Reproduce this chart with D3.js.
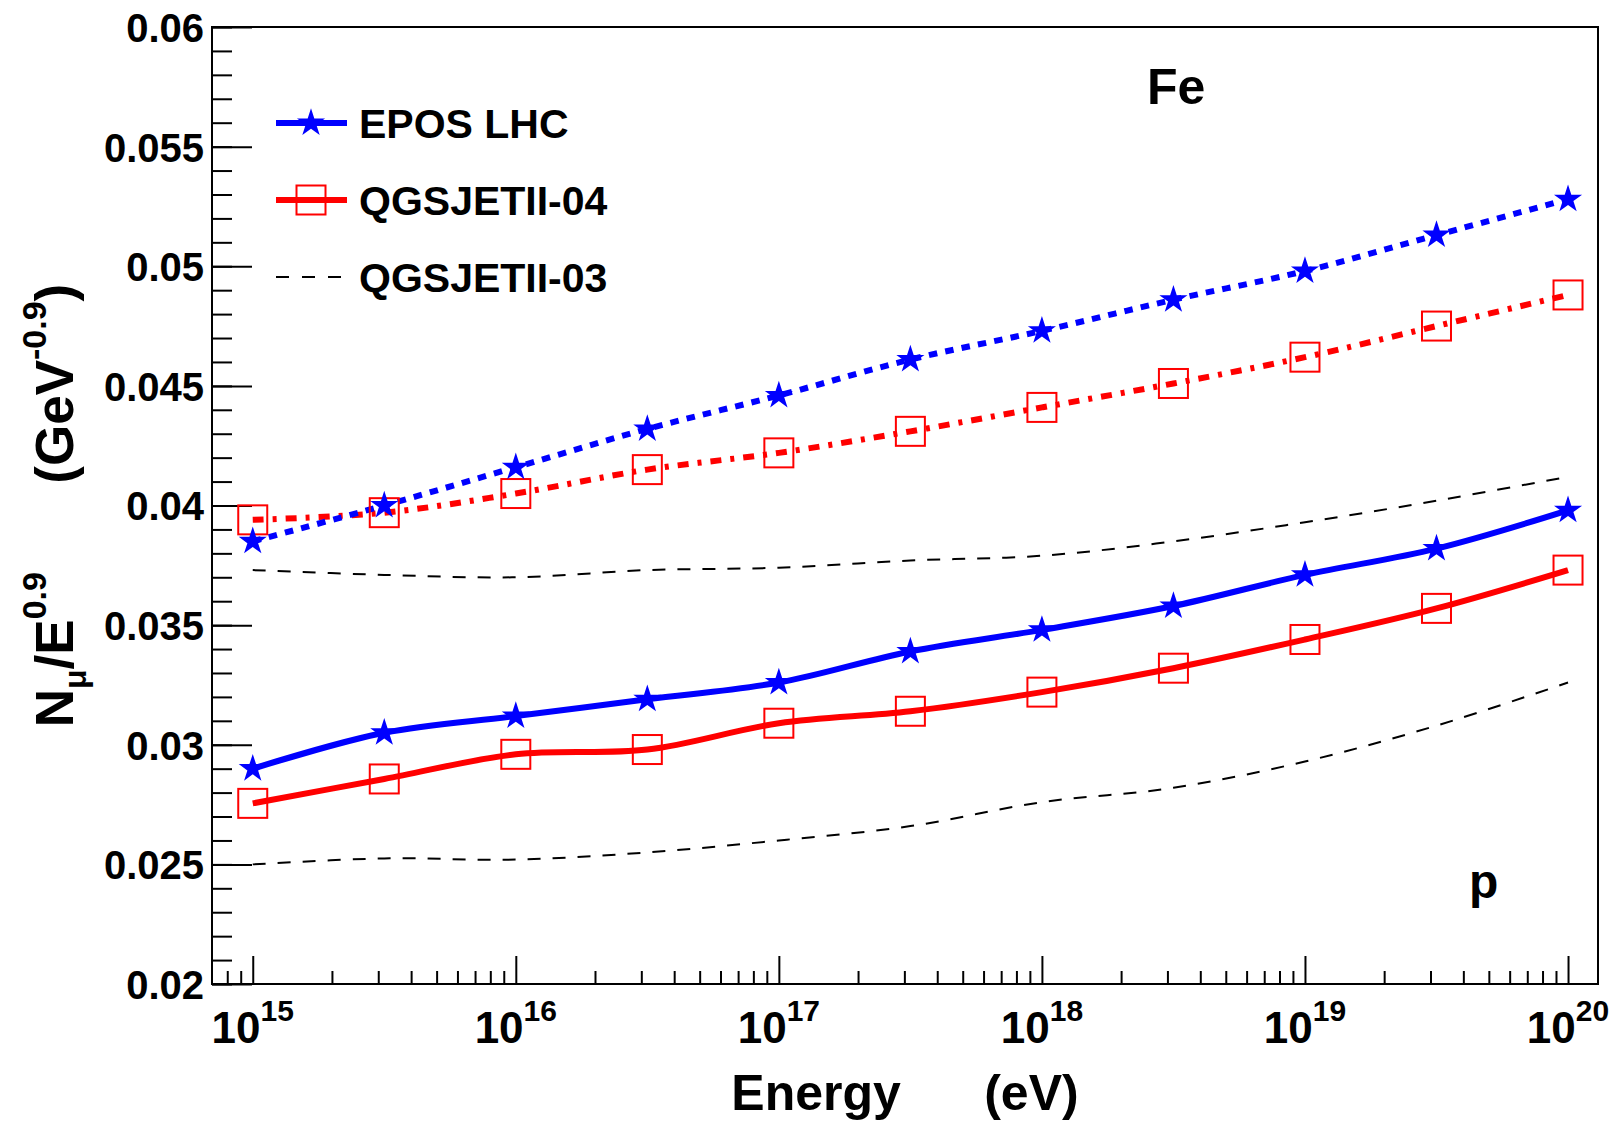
<!DOCTYPE html>
<html>
<head>
<meta charset="utf-8">
<script src="https://cdn.jsdelivr.net/npm/d3@7"></script>
<style>
body { margin: 0; background: #fff; }
text { font-family: "Liberation Sans", Arial, Helvetica, sans-serif; font-weight: bold; fill: #000; }
</style>
</head>
<body>
<div id="chart"></div>
<script>
// energies (eV), half-decade steps
var energy = [1e15, 3.162e15, 1e16, 3.162e16, 1e17, 3.162e17, 1e18, 3.162e18, 1e19, 3.162e19, 1e20];

// N_mu / E^0.9
var eposFe   = [0.0385, 0.0400, 0.0416, 0.0432, 0.0446, 0.0461, 0.0473, 0.0486, 0.0498, 0.0513, 0.0528];
var qgs04Fe  = [0.0394, 0.0397, 0.0405, 0.0415, 0.0422, 0.0431, 0.0441, 0.0451, 0.0462, 0.0475, 0.0488];
var qgs03Fe  = [0.0373, 0.0371, 0.0370, 0.0373, 0.0374, 0.0377, 0.0379, 0.0385, 0.0393, 0.0402, 0.0412];
var eposP    = [0.0290, 0.0305, 0.0312, 0.0319, 0.0326, 0.0339, 0.0348, 0.0358, 0.0371, 0.0382, 0.0398];
var qgs04P   = [0.02755, 0.02857, 0.0296, 0.0298, 0.0309, 0.0314, 0.0322, 0.0332, 0.0344, 0.0357, 0.0373];
var qgs03P   = [0.0250, 0.02525, 0.0252, 0.0255, 0.0260, 0.0266, 0.0276, 0.0282, 0.0293, 0.0308, 0.0326];

var yTicks = [0.02, 0.025, 0.03, 0.035, 0.04, 0.045, 0.05, 0.055, 0.06];
var yTickLabels = ["0.02", "0.025", "0.03", "0.035", "0.04", "0.045", "0.05", "0.055", "0.06"];
var xTicks = [1e15, 1e16, 1e17, 1e18, 1e19, 1e20];
var xTickExp = ["15", "16", "17", "18", "19", "20"];
var minorMult = [2, 3, 4, 5, 6, 7, 8, 9];
var legendNames = ["EPOS LHC", "QGSJETII-04", "QGSJETII-03"];

var W = 1612, H = 1122;
var mLeft = 212, mRight = 1598, mTop = 27, mBottom = 984;

var svg = d3.select('#chart').append('svg')
  .attr('width', W).attr('height', H);

var x = d3.scaleLog().domain([7e14, 1.3e20]).range([mLeft, mRight]);
var y = d3.scaleLinear().domain([0.02, 0.06]).range([mBottom, mTop]);

// y minor ticks
var yMinor = d3.range(0.02, 0.0601, 0.001);
svg.append('g').attr('transform', 'translate(' + mLeft + ',0)')
  .call(d3.axisLeft(y).tickValues(yMinor).tickSize(-20).tickFormat(''))
  .call(function(g) { g.select('.domain').remove(); })
  .selectAll('line').attr('stroke', '#000').attr('stroke-width', 2);

// y major ticks + labels
var yAx = svg.append('g').attr('transform', 'translate(' + mLeft + ',0)')
  .call(d3.axisLeft(y).tickValues(yTicks).tickSize(-40).tickPadding(8)
    .tickFormat(function(d, i) { return yTickLabels[i]; }));
yAx.select('.domain').remove();
yAx.selectAll('line').attr('stroke', '#000').attr('stroke-width', 2);
yAx.selectAll('text').attr('font-size', 40).attr('font-family', null).attr('dy', '0.36em');

// x minor ticks
var xMinor = [];
[1e14, 1e15, 1e16, 1e17, 1e18, 1e19, 1e20].forEach(function(p) {
  minorMult.forEach(function(m) {
    var v = p * m;
    if (v > 7e14 && v < 1.3e20) xMinor.push(v);
  });
});
svg.append('g').attr('transform', 'translate(0,' + mBottom + ')')
  .call(d3.axisBottom(x).tickValues(xMinor).tickSize(-13).tickFormat(''))
  .call(function(g) { g.select('.domain').remove(); })
  .selectAll('line').attr('stroke', '#000').attr('stroke-width', 2);

var xAx = svg.append('g').attr('transform', 'translate(0,' + mBottom + ')')
  .call(d3.axisBottom(x).tickValues(xTicks).tickSize(-28).tickFormat(''));
xAx.select('.domain').remove();
xAx.selectAll('line').attr('stroke', '#000').attr('stroke-width', 2);

var xl = svg.append('g').selectAll('text').data(xTicks).enter().append('text')
  .attr('x', function(d) { return x(d); })
  .attr('y', mBottom + 59)
  .attr('text-anchor', 'middle')
  .attr('font-size', 44);
xl.append('tspan').text('10');
xl.append('tspan').attr('font-size', 30).attr('dy', -22)
  .text(function(d, i) { return xTickExp[i]; });

// frame
svg.append('rect').attr('x', mLeft).attr('y', mTop)
  .attr('width', mRight - mLeft).attr('height', mBottom - mTop)
  .attr('fill', 'none').attr('stroke', '#000').attr('stroke-width', 2);

// axis titles
svg.append('text').attr('x', (mLeft + mRight) / 2).attr('y', 1110)
  .attr('text-anchor', 'middle').attr('font-size', 50)
  .style('white-space', 'pre')
  .text('Energy      (eV)');

var yt = svg.append('text')
  .attr('transform', 'translate(73,' + ((mTop + mBottom) / 2) + ') rotate(-90)')
  .attr('text-anchor', 'middle').attr('font-size', 53)
  .style('white-space', 'pre');
yt.append('tspan').text('N');
yt.append('tspan').attr('font-size', 32).attr('dy', 13).text('\u03bc');
yt.append('tspan').attr('dy', -13).text('/E');
yt.append('tspan').attr('font-size', 34).attr('dy', -27).text('0.9');
yt.append('tspan').attr('dy', 27).text('      (GeV');
yt.append('tspan').attr('font-size', 34).attr('dy', -27).text('-0.9');
yt.append('tspan').attr('dy', 27).text(')');

// curves
var line = d3.line()
  .x(function(d) { return x(d[0]); })
  .y(function(d) { return y(d[1]); })
  .curve(d3.curveCatmullRom.alpha(0.5));

function pts(vals) { return energy.map(function(e, i) { return [e, vals[i]]; }); }

var series = [
  { v: qgs03Fe, color: '#000', w: 2, dash: '13 12' },
  { v: qgs03P,  color: '#000', w: 2, dash: '13 12' },
  { v: qgs04Fe, color: '#ff0000', w: 6, dash: '11 9 4 9', mark: 'square' },
  { v: eposFe,  color: '#0000ff', w: 6, dash: '8.5 8.2', mark: 'star' },
  { v: qgs04P,  color: '#ff0000', w: 6, dash: null, mark: 'square' },
  { v: eposP,   color: '#0000ff', w: 6, dash: null, mark: 'star' }
];

var plot = svg.append('g');
series.forEach(function(s) {
  plot.append('path')
    .attr('d', line(pts(s.v)))
    .attr('fill', 'none')
    .attr('stroke', s.color)
    .attr('stroke-width', s.w)
    .attr('stroke-dasharray', s.dash);
});

var star = d3.symbol().type(d3.symbolStar).size(245);

function drawMarker(g, type, cx, cy) {
  if (type === 'star') {
    g.append('path').attr('d', star())
      .attr('transform', 'translate(' + cx + ',' + cy + ')')
      .attr('fill', '#0000ff');
  } else {
    g.append('rect').attr('x', cx - 14.5).attr('y', cy - 14.5)
      .attr('width', 29).attr('height', 29)
      .attr('fill', 'none').attr('stroke', '#ff0000').attr('stroke-width', 2);
  }
}

series.forEach(function(s) {
  if (!s.mark) return;
  pts(s.v).forEach(function(p) { drawMarker(plot, s.mark, x(p[0]), y(p[1])); });
});

// legend
var leg = svg.append('g');
var legY = [123, 200, 277];
var legStyle = [
  { color: '#0000ff', w: 6, dash: null, mark: 'star' },
  { color: '#ff0000', w: 6, dash: null, mark: 'square' },
  { color: '#000', w: 2, dash: '13 13', mark: null }
];
legendNames.forEach(function(name, i) {
  var st = legStyle[i];
  leg.append('line').attr('x1', 276).attr('x2', 347)
    .attr('y1', legY[i]).attr('y2', legY[i])
    .attr('stroke', st.color).attr('stroke-width', st.w)
    .attr('stroke-dasharray', st.dash);
  if (st.mark) drawMarker(leg, st.mark, 311, legY[i]);
  leg.append('text').attr('x', 359).attr('y', legY[i] + 15)
    .attr('font-size', 41).text(name);
});

// labels
svg.append('text').attr('x', 1147).attr('y', 104).attr('font-size', 50).text('Fe');
svg.append('text').attr('x', 1469).attr('y', 898).attr('font-size', 48).text('p');
</script>
</body>
</html>
